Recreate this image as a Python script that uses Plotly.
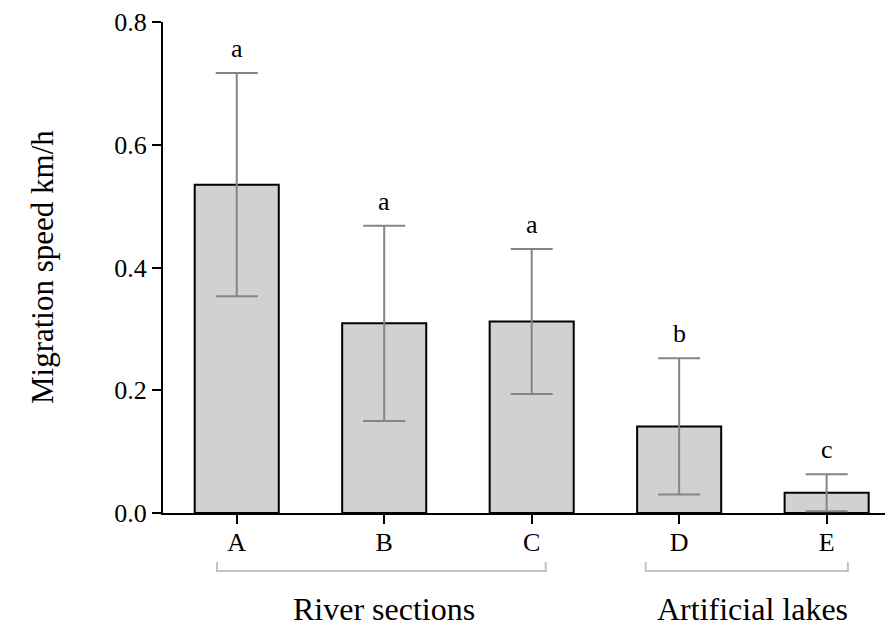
import plotly.graph_objects as go

categories = ["A", "B", "C", "D", "E"]
means = [0.535, 0.309, 0.312, 0.141, 0.033]
errors = [0.182, 0.159, 0.118, 0.111, 0.030]
letters = ["a", "a", "a", "b", "c"]
group_names = ["River sections", "Artificial lakes"]
group_spans = [(-0.134, 2.095), (2.773, 4.144)]
group_centers = [1.0, 3.5]

FONT = "Liberation Serif, Times New Roman, serif"
xpos = list(range(len(categories)))

fig = go.Figure()
fig.add_trace(go.Bar(
    x=xpos, y=means, width=0.57,
    marker=dict(color="#d1d1d3", line=dict(color="black", width=2)),
    error_y=dict(type="data", array=errors, visible=True,
                 color="#858585", thickness=2, width=21),
    showlegend=False,
))

annotations = []
for xi, m, e, l in zip(xpos, means, errors, letters):
    annotations.append(dict(x=xi, y=m + e, xref="x", yref="y", text=l,
                            showarrow=False, yanchor="bottom", yshift=8,
                            font=dict(family=FONT, size=26, color="black")))
for name, c in zip(group_names, group_centers):
    annotations.append(dict(x=c, y=-0.196, xref="x", yref="paper", text=name,
                            showarrow=False, yanchor="middle",
                            font=dict(family=FONT, size=32, color="black")))
annotations.append(dict(x=-0.165, y=0.5, xref="paper", yref="paper",
                        text="Migration speed km/h", textangle=-90,
                        showarrow=False, xanchor="center", yanchor="middle",
                        font=dict(family=FONT, size=31, color="black")))

shapes = []
for (a, b) in group_spans:
    shapes.append(dict(type="path", xref="x", yref="paper",
                       path=f"M {a},-0.1 L {a},-0.118 L {b},-0.118 L {b},-0.1",
                       line=dict(color="#c4c4c4", width=2)))

fig.update_layout(
    width=885, height=621,
    margin=dict(l=155, r=0, t=12, b=116),
    plot_bgcolor="white", paper_bgcolor="white",
    font=dict(family=FONT, size=26, color="black"),
    annotations=annotations, shapes=shapes,
    xaxis=dict(range=[-0.5, 4.45], tickvals=xpos, ticktext=categories,
               showline=True, linecolor="black", linewidth=2,
               ticks="outside", ticklen=9, tickwidth=2, tickcolor="black",
               ticklabelstandoff=-4,
               showgrid=False, zeroline=False,
               tickfont=dict(family=FONT, size=26, color="black")),
    yaxis=dict(range=[0, 0.8], tickvals=[0, 0.2, 0.4, 0.6, 0.8],
               ticktext=["0.0", "0.2", "0.4", "0.6", "0.8"],
               showline=True, linecolor="black", linewidth=2,
               ticks="outside", ticklen=9, tickwidth=2, tickcolor="black",
               ticklabeloverflow="allow",
               showgrid=False, zeroline=False,
               tickfont=dict(family=FONT, size=26, color="black")),
)

fig.write_html("out.html")
